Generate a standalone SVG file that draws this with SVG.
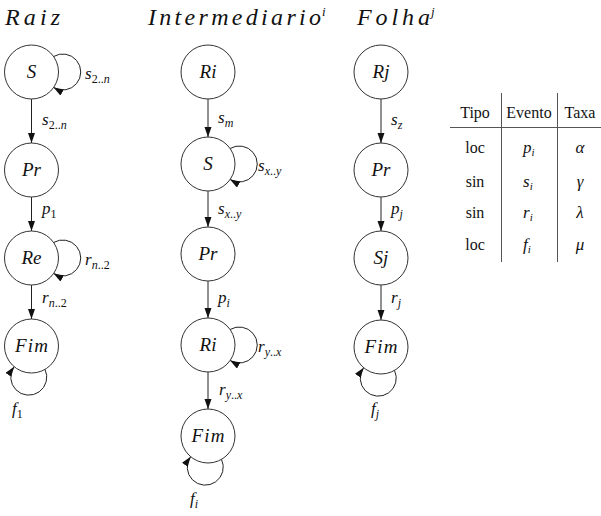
<svg xmlns="http://www.w3.org/2000/svg" width="601" height="516" viewBox="0 0 601 516">
<style>
.n{fill:#fff;stroke:#333;stroke-width:1}
.e{fill:none;stroke:#222;stroke-width:1}
.m{font-family:"Liberation Serif","Times New Roman",serif;font-style:italic;fill:#111}
.nl{font-size:19px;text-anchor:middle}
.lb{font-size:17px}
.sb{font-size:12px}
.up{font-style:normal}
.tt{font-size:24px}
.tb{font-family:"Liberation Serif","Times New Roman",serif;font-size:16px;fill:#111;text-anchor:middle}
</style>
<defs>
<marker id="ah" markerUnits="userSpaceOnUse" markerWidth="11" markerHeight="8" refX="10" refY="3.5" orient="auto">
<path d="M0,0 L10,3.5 L0,7 z" fill="#111"/>
</marker>
</defs>

<g id="titles">
<text class="m tt" x="5" y="25" textLength="55" lengthAdjust="spacing">Raiz</text>
<text class="m tt" x="148" y="25" textLength="173" lengthAdjust="spacing">Intermediario</text>
<text class="m" x="322" y="16" font-size="13">i</text>
<text class="m tt" x="357" y="25" textLength="73" lengthAdjust="spacing">Folha</text>
<text class="m" x="431" y="16" font-size="13">j</text>
</g>

<g id="connectors">
<!-- column 1 -->
<line class="e" x1="31.5" y1="99" x2="31.5" y2="143" marker-end="url(#ah)"/>
<line class="e" x1="31.5" y1="197" x2="31.5" y2="231" marker-end="url(#ah)"/>
<line class="e" x1="31.5" y1="285" x2="31.5" y2="319" marker-end="url(#ah)"/>
<path class="e" d="M53.6,56.5 A18 18 0 1 1 53.6,87.5" marker-end="url(#ah)"/>
<path class="e" d="M53.6,242.5 A18 18 0 1 1 53.6,273.5" marker-end="url(#ah)"/>
<path class="e" d="M45,369.4 A18 18 0 1 1 14.1,366.7" marker-end="url(#ah)"/>
<!-- column 2 -->
<line class="e" x1="208" y1="99" x2="208" y2="137" marker-end="url(#ah)"/>
<line class="e" x1="208" y1="191" x2="208" y2="227" marker-end="url(#ah)"/>
<line class="e" x1="208" y1="281" x2="208" y2="318" marker-end="url(#ah)"/>
<line class="e" x1="208" y1="372" x2="208" y2="409" marker-end="url(#ah)"/>
<path class="e" d="M230.1,148.5 A18 18 0 1 1 230.1,179.5" marker-end="url(#ah)"/>
<path class="e" d="M230.1,329.5 A18 18 0 1 1 230.1,360.5" marker-end="url(#ah)"/>
<path class="e" d="M221.5,459.4 A18 18 0 1 1 190.6,456.7" marker-end="url(#ah)"/>
<!-- column 3 -->
<line class="e" x1="381" y1="99" x2="381" y2="143" marker-end="url(#ah)"/>
<line class="e" x1="381" y1="197" x2="381" y2="231" marker-end="url(#ah)"/>
<line class="e" x1="381" y1="285" x2="381" y2="320" marker-end="url(#ah)"/>
<path class="e" d="M394.5,370.4 A18 18 0 1 1 363.6,367.7" marker-end="url(#ah)"/>
</g>

<g id="edge-labels">
<text class="m lb" x="85" y="79">s<tspan class="sb up" dy="4">2..</tspan><tspan class="sb">n</tspan></text>
<text class="m lb" x="42" y="125">s<tspan class="sb up" dy="4">2..</tspan><tspan class="sb">n</tspan></text>
<text class="m lb" x="42" y="214">p<tspan class="sb up" dy="4">1</tspan></text>
<text class="m lb" x="85" y="265">r<tspan class="sb" dy="4">n</tspan><tspan class="sb up">..2</tspan></text>
<text class="m lb" x="42" y="303">r<tspan class="sb" dy="4">n</tspan><tspan class="sb up">..2</tspan></text>
<text class="m lb" x="12" y="414">f<tspan class="sb up" dy="4">1</tspan></text>

<text class="m lb" x="218" y="123">s<tspan class="sb" dy="4">m</tspan></text>
<text class="m lb" x="258" y="171">s<tspan class="sb" dy="4">x</tspan><tspan class="sb up">..</tspan><tspan class="sb">y</tspan></text>
<text class="m lb" x="218" y="214">s<tspan class="sb" dy="4">x</tspan><tspan class="sb up">..</tspan><tspan class="sb">y</tspan></text>
<text class="m lb" x="218" y="303">p<tspan class="sb" dy="4">i</tspan></text>
<text class="m lb" x="258" y="352">r<tspan class="sb" dy="4">y</tspan><tspan class="sb up">..</tspan><tspan class="sb">x</tspan></text>
<text class="m lb" x="219" y="395">r<tspan class="sb" dy="4">y</tspan><tspan class="sb up">..</tspan><tspan class="sb">x</tspan></text>
<text class="m lb" x="190" y="504">f<tspan class="sb" dy="4">i</tspan></text>

<text class="m lb" x="391" y="125">s<tspan class="sb" dy="4">z</tspan></text>
<text class="m lb" x="391" y="214">p<tspan class="sb" dy="4">j</tspan></text>
<text class="m lb" x="391" y="303">r<tspan class="sb" dy="4">j</tspan></text>
<text class="m lb" x="371" y="414">f<tspan class="sb" dy="4">j</tspan></text>
</g>

<g id="raiz-s"><circle class="n" cx="31.5" cy="72" r="27"/><text class="m nl" x="31.5" y="78">S</text></g>
<g id="raiz-pr"><circle class="n" cx="31.5" cy="170" r="27"/><text class="m nl" x="31.5" y="176">Pr</text></g>
<g id="raiz-re"><circle class="n" cx="31.5" cy="258" r="27"/><text class="m nl" x="31.5" y="264">Re</text></g>
<g id="raiz-fim"><circle class="n" cx="31.5" cy="346" r="27"/><text class="m nl" x="31.5" y="352" textLength="33" lengthAdjust="spacing">Fim</text></g>

<g id="int-ri1"><circle class="n" cx="208" cy="72" r="27"/><text class="m nl" x="208" y="78">Ri</text></g>
<g id="int-s"><circle class="n" cx="208" cy="164" r="27"/><text class="m nl" x="208" y="170">S</text></g>
<g id="int-pr"><circle class="n" cx="208" cy="254" r="27"/><text class="m nl" x="208" y="260">Pr</text></g>
<g id="int-ri2"><circle class="n" cx="208" cy="345" r="27"/><text class="m nl" x="208" y="351">Ri</text></g>
<g id="int-fim"><circle class="n" cx="208" cy="436" r="27"/><text class="m nl" x="208" y="442" textLength="33" lengthAdjust="spacing">Fim</text></g>

<g id="folha-rj"><circle class="n" cx="381" cy="72" r="27"/><text class="m nl" x="381" y="78">Rj</text></g>
<g id="folha-pr"><circle class="n" cx="381" cy="170" r="27"/><text class="m nl" x="381" y="176">Pr</text></g>
<g id="folha-sj"><circle class="n" cx="381" cy="258" r="27"/><text class="m nl" x="381" y="264">Sj</text></g>
<g id="folha-fim"><circle class="n" cx="381" cy="347" r="27"/><text class="m nl" x="381" y="353" textLength="33" lengthAdjust="spacing">Fim</text></g>

<g id="table">
<line x1="450" y1="127.5" x2="601" y2="127.5" stroke="#555" stroke-width="1"/>
<line x1="501.5" y1="93" x2="501.5" y2="262" stroke="#555" stroke-width="1"/>
<line x1="557.5" y1="93" x2="557.5" y2="262" stroke="#555" stroke-width="1"/>
<text class="tb" x="475" y="118">Tipo</text>
<text class="tb" x="529" y="118">Evento</text>
<text class="tb" x="580" y="118">Taxa</text>
<text class="tb" x="475" y="153">loc</text>
<text class="tb" x="475" y="187">sin</text>
<text class="tb" x="475" y="218">sin</text>
<text class="tb" x="475" y="250">loc</text>
<text class="m" font-size="17" x="523" y="153">p<tspan font-size="11" dy="3">i</tspan></text>
<text class="m" font-size="17" x="523" y="187">s<tspan font-size="11" dy="3">i</tspan></text>
<text class="m" font-size="17" x="523" y="218">r<tspan font-size="11" dy="3">i</tspan></text>
<text class="m" font-size="17" x="523" y="250">f<tspan font-size="11" dy="3">i</tspan></text>
<text class="m" font-size="17" text-anchor="middle" x="580" y="153">α</text>
<text class="m" font-size="17" text-anchor="middle" x="580" y="187">γ</text>
<text class="m" font-size="17" text-anchor="middle" x="580" y="218">λ</text>
<text class="m" font-size="17" text-anchor="middle" x="580" y="250">μ</text>
</g>
</svg>
